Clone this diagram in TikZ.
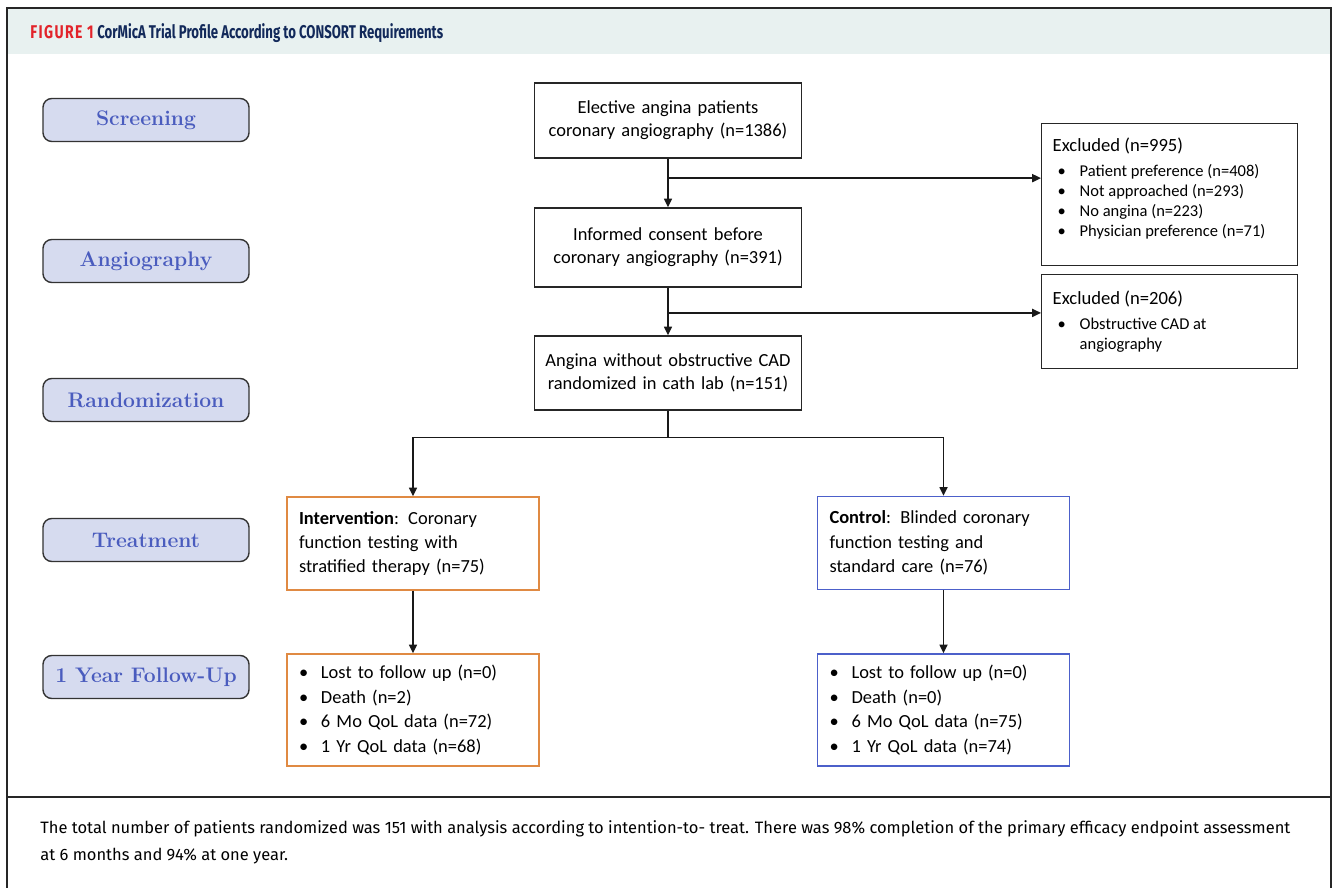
\documentclass[tikz,border=0pt]{standalone}
\usepackage{fontspec}
\usepackage{xcolor}
\usepackage{tikz}
\usetikzlibrary{positioning,arrows.meta,calc}
\newfontfamily\boxfont{Carlito}
\newfontfamily\capfont{Fira Sans}
\newfontfamily\titlefont[FakeStretch=0.715]{Fira Sans}
\newfontfamily\fignofont[FakeStretch=0.76,LetterSpace=7.6]{Fira Sans}
\definecolor{headbg}{RGB}{232, 241, 240}
\definecolor{figred}{RGB}{226, 35, 42}
\definecolor{navy}{RGB}{18, 41, 90}
\definecolor{stagefill}{RGB}{214, 219, 239}
\definecolor{stageblue}{RGB}{74, 92, 190}
\definecolor{armorange}{RGB}{224, 138, 67}
\definecolor{armblue}{RGB}{76, 96, 202}
\newcommand{\bul}[1][0cm]{\hspace*{#1}\makebox[0.44cm][l]{\textbullet}}

\begin{document}
\begin{tikzpicture}[
    stage/.style={rectangle, rounded corners=5pt, draw=black!80, thick, fill=stagefill, minimum width=4.12cm, minimum height=0.86cm, text=stageblue, font=\rmfamily\bfseries\fontsize{12}{14}\selectfont},
    flowbox/.style={rectangle, draw=black!85, thick, text width=5.0cm, align=center, minimum height=1.5cm, inner xsep=0.17cm, font=\boxfont\fontsize{10.5}{13.2}\selectfont},
    exclbox/.style={rectangle, draw=black!85, thick, anchor=north west, inner xsep=0.22cm, inner ysep=0.28cm, align=left, font=\boxfont\fontsize{9.4}{11.4}\selectfont},
    armbox/.style={rectangle, thick, text width=4.56cm, align=left, minimum height=1.86cm, inner xsep=0.24cm, font=\boxfont\fontsize{10.5}{13.9}\selectfont},
    arr/.style={draw=black!90, thick, -{Triangle[width=4.6pt,length=5pt]}},
    frame/.style={draw=black!85, line width=1.1pt}
]
\useasboundingbox (0,0) rectangle (26.72,-17.76);

% Frame and header band
\fill[headbg] (0.14,-0.18) rectangle (26.62,-1.08);
\draw[frame] (0.14,-17.76) -- (0.14,-0.16) -- (26.62,-0.16) -- (26.62,-17.76);
\draw[frame] (0.14,-15.94) -- (26.62,-15.94);

\node[anchor=base west, inner sep=0, text=figred, font=\fignofont\bfseries\fontsize{10.5}{12}\selectfont] (figno) at (0.60,-0.78) {FIGURE 1};
\node[anchor=base west, inner sep=0, text=navy, font=\titlefont\bfseries\fontsize{10.5}{12}\selectfont] (title) at (1.94,-0.78) {CorMicA Trial Profile According to CONSORT Requirements};

% Stage labels
\node[stage] (s1) at (2.92, -2.40)  {Screening};
\node[stage] (s2) at (2.92, -5.22)  {Angiography};
\node[stage] (s3) at (2.92, -8.00)  {Randomization};
\node[stage] (s4) at (2.92, -10.80) {Treatment};
\node[stage] (s5) at (2.92, -13.54) {1 Year Follow-Up};

% Main flow
\node[flowbox] (elect) at (13.36, -2.41) {Elective angina patients\\coronary angiography (n=1386)};
\node[flowbox, minimum height=1.58cm] (cons) at (13.36, -4.95) {Informed consent before\\coronary angiography (n=391)};
\node[flowbox, minimum height=1.48cm] (rand) at (13.36, -7.46) {Angina without obstructive CAD\\randomized in cath lab (n=151)};

% Exclusions
\node[exclbox] (excl1) at (20.82, -2.46) {\parbox[c][2.28cm][t]{4.68cm}{%
    {\fontsize{10.6}{13}\selectfont Excluded (n=995)}\\[0.1cm]
    \bul[0.1cm]Patient preference (n=408)\\
    \bul[0.1cm]Not approached (n=293)\\
    \bul[0.1cm]No angina (n=223)\\
    \bul[0.1cm]Physician preference (n=71)}};
\node[exclbox] (excl2) at (20.82, -5.48) {\parbox[c][1.32cm][t]{4.68cm}{%
    \vspace*{0.04cm}{\fontsize{10.6}{13}\selectfont Excluded (n=206)}\\[0.1cm]
    \bul[0.1cm]Obstructive CAD at\\
    \hspace*{0.54cm}angiography}};

\draw[arr] (elect.south) -- (cons.north);
\draw[arr] (cons.south) -- (rand.north);
\coordinate (br1) at ($(elect.south)!0.4!(cons.north)$);
\coordinate (br2) at ($(cons.south)!0.53!(rand.north)$);
\draw[arr] (br1) -- (br1 -| excl1.west);
\draw[arr] (br2) -- (br2 -| excl2.west);

% Arms
\node[armbox, draw=armorange] (intv) at (8.26, -10.87) {\textbf{Intervention}: Coronary\\function testing with\\stratified therapy (n=75)};
\node[armbox, draw=armblue] (ctrl) at (18.87, -10.86) {\textbf{Control}: Blinded coronary\\function testing and\\standard care (n=76)};

\draw[arr] (rand.south) -- ++(0,-0.54) -| (intv.north);
\draw[arr] (rand.south) -- ++(0,-0.54) -| (ctrl.north);

% Follow-up
\node[armbox, draw=armorange, minimum height=2.24cm] (fuI) at (8.26, -14.20) {\bul Lost to follow up (n=0)\\\bul Death (n=2)\\\bul 6 Mo QoL data (n=72)\\\bul 1 Yr QoL data (n=68)};
\node[armbox, draw=armblue, minimum height=2.24cm] (fuC) at (18.87, -14.20) {\bul Lost to follow up (n=0)\\\bul Death (n=0)\\\bul 6 Mo QoL data (n=75)\\\bul 1 Yr QoL data (n=74)};

\draw[arr] (intv.south) -- (fuI.north);
\draw[arr] (ctrl.south) -- (fuC.north);

% Caption
\node[anchor=north west, inner sep=0, align=left, font=\capfont\fontsize{9.38}{15.4}\selectfont] (cap) at (0.80, -16.40) {The total number of patients randomized was 151 with analysis according to intention-to- treat. There was 98\% completion of the primary efficacy endpoint assessment\\at 6 months and 94\% at one year.};

\end{tikzpicture}
\end{document}
